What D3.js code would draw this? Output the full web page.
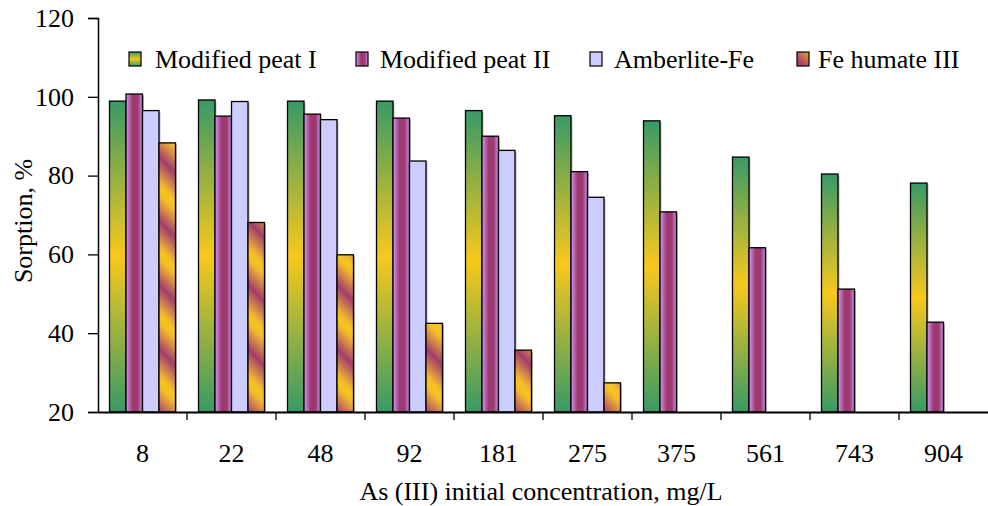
<!DOCTYPE html>
<html><head><meta charset="utf-8">
<script src="https://cdn.jsdelivr.net/npm/d3@7"></script>
<style>body{margin:0;background:#fff}svg{display:block}text{font-family:"Liberation Serif","Times New Roman",serif;fill:#000}</style>
</head><body><svg id="c" width="988" height="506"></svg>
<script>
const categories = ["8","22","48","92","181","275","375","561","743","904"];
const seriesNames = ["Modified peat I","Modified peat II","Amberlite-Fe","Fe humate III"];
const peatI   = [98.9, 99.2, 98.9, 98.9, 96.5, 95.2, 93.9, 84.7, 80.4, 78.1];
const peatII  = [100.7, 95.1, 95.6, 94.6, 90.0, 81.0, 70.8, 61.7, 51.2, 42.8];
const amberFe = [96.5, 98.8, 94.2, 83.7, 86.4, 74.5, null, null, null, null];
const feHum   = [88.3, 68.1, 59.9, 42.5, 35.7, 27.4, null, null, null, null];
const yTicks  = [20, 40, 60, 80, 100, 120];
const seriesValues = [peatI, peatII, amberFe, feHum];

const svg = d3.select("#c");
const m = {l:98, r:988, t:18, b:412};
const FS = "26px";
const defs = svg.append("defs");
const g1 = defs.append("linearGradient").attr("id","gGreen").attr("x1",0).attr("y1",0).attr("x2",0).attr("y2",1);
[[0,"#389a66"],[0.5,"#f8c81c"],[1,"#389a66"]].forEach(s=>g1.append("stop").attr("offset",s[0]).attr("stop-color",s[1]));
const g2 = defs.append("linearGradient").attr("id","gPurple").attr("x1",0).attr("y1",0).attr("x2",1).attr("y2",0);
[[0,"#d694f6"],[0.4,"#9c3a70"],[0.7,"#9c3a70"],[1,"#cc8cec"]].forEach(s=>g2.append("stop").attr("offset",s[0]).attr("stop-color",s[1]));
const g4 = defs.append("linearGradient").attr("id","gOrange").attr("gradientUnits","userSpaceOnUse")
  .attr("x1",0).attr("y1",0).attr("x2",16).attr("y2",-16).attr("spreadMethod","reflect");
[[0,"#f7c61e"],[0.2,"#f2b830"],[1,"#a43c6c"]].forEach(s=>g4.append("stop").attr("offset",s[0]).attr("stop-color",s[1]));
const fills = ["url(#gGreen)","url(#gPurple)","#ccccff","url(#gOrange)"];

const y = d3.scaleLinear().domain([20,120]).range([m.b,m.t]);
const x0 = d3.scaleBand().domain(categories).range([m.l,m.r]).padding(0);
const x1 = d3.scaleBand().domain(seriesNames).range([11.5, x0.bandwidth()-11.5]).padding(0);

// bars
const groups = svg.append("g").selectAll("g").data(categories).join("g")
  .attr("transform", c => `translate(${x0(c)},0)`);
groups.each(function(c, ci){
  const gg = d3.select(this);
  seriesNames.forEach((s, si) => {
    const v = seriesValues[si][ci];
    if (v == null) return;
    gg.append("rect").attr("x", x1(s)+1.5).attr("y", y(v)+1.5).attr("width", x1.bandwidth())
      .attr("height", y(20)-y(v)-1.5).attr("fill","#bbb");
    gg.append("rect").attr("x", x1(s)).attr("y", y(v)).attr("width", x1.bandwidth())
      .attr("height", y(20)-y(v)).attr("fill", fills[si]).attr("stroke","#000").attr("stroke-width",1.3);
  });
});

// y axis
const ya = svg.append("g").attr("transform",`translate(${m.l},0)`)
  .call(d3.axisLeft(y).tickValues(yTicks).tickSize(10).tickPadding(14));
ya.select(".domain").attr("stroke","#000").attr("stroke-width",1.5);
ya.selectAll(".tick line").attr("stroke","#000").attr("stroke-width",1.3);
ya.selectAll("text").style("font-size",FS).style("font-family","Liberation Serif");

// x axis
const xa = svg.append("g").attr("transform",`translate(0,${m.b})`)
  .call(d3.axisBottom(x0).tickSize(0).tickPadding(32));
xa.select(".domain").attr("stroke","#000").attr("stroke-width",2);
xa.selectAll("text").style("font-size",FS).style("font-family","Liberation Serif");
svg.append("g").selectAll("line").data(categories.slice(1)).join("line")
  .attr("x1", c => x0(c)).attr("x2", c => x0(c)).attr("y1", m.b).attr("y2", m.b+8)
  .attr("stroke","#000").attr("stroke-width",1.3);

// axis titles
svg.append("text").attr("x", 541).attr("y", 500).attr("text-anchor","middle")
  .style("font-size",FS).text("As (III) initial concentration, mg/L");
svg.append("text").attr("transform","translate(32,221) rotate(-90)").attr("text-anchor","middle")
  .style("font-size",FS).text("Sorption, %");

// legend
const legX = [129, 356, 590, 797];
const legT = [155, 380, 614, 818];
const lg = svg.append("g").selectAll("g").data(seriesNames).join("g");
lg.append("rect").attr("x",(d,i)=>legX[i]).attr("y",52).attr("width",12).attr("height",14)
  .attr("fill",(d,i)=>fills[i]).attr("stroke","#000").attr("stroke-width",1.2);
lg.append("text").attr("x",(d,i)=>legT[i]).attr("y",68).style("font-size",FS).text(d=>d);
</script></body></html>
